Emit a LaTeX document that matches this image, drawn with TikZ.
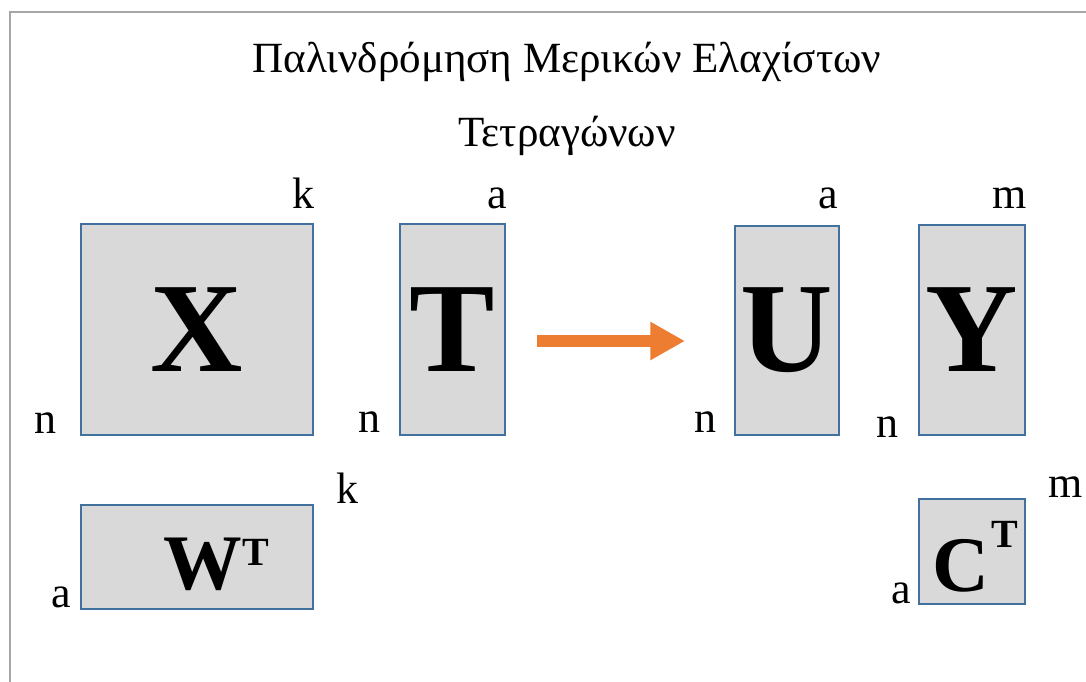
\documentclass[tikz,border=0pt]{standalone}
\usepackage{fontspec}
\setmainfont{Liberation Serif}
\usetikzlibrary{arrows.meta}
\definecolor{boxblue}{HTML}{41719C}
\definecolor{boxgray}{HTML}{D9D9D9}
\definecolor{arroworange}{HTML}{ED7D31}
\definecolor{framegray}{HTML}{A6A6A6}
\begin{document}
\begin{tikzpicture}[x=0.75pt,y=-0.75pt,
  mat/.style={draw=boxblue,fill=boxgray,line width=1.6pt,inner sep=0pt,rectangle},
  dim/.style={font=\fontsize{33}{36}\selectfont,anchor=base,inner sep=0pt},
  big/.style={font=\fontsize{96}{100}\selectfont\bfseries,inner sep=0pt},
  mid/.style={font=\fontsize{59}{62}\selectfont\bfseries,inner sep=0pt,anchor=base},
  sup/.style={font=\fontsize{30}{32}\selectfont\bfseries,inner sep=0pt,anchor=base},
  ttl/.style={font=\fontsize{32.3}{36}\selectfont,anchor=base,inner sep=0pt}]
\useasboundingbox (0,0) rectangle (1086,682);
\draw[framegray,line width=1.5pt] (10,682) -- (10,12) -- (1086,12);
% title
\node[ttl] (t1) at (567,72) {Παλινδρόμηση Μερικών Ελαχίστων};
\node[ttl] (t2) at (567,146) {Τετραγώνων};
% matrices
\node[mat,minimum width=232*0.75pt,minimum height=211*0.75pt] (X) at (197,329.5) {};
\node[mat,minimum width=105*0.75pt,minimum height=211*0.75pt] (T) at (452.5,329.5) {};
\node[mat,minimum width=104*0.75pt,minimum height=209*0.75pt] (U) at (787,330.5) {};
\node[mat,minimum width=106*0.75pt,minimum height=210*0.75pt] (Y) at (972,330) {};
\node[mat,minimum width=232*0.75pt,minimum height=104*0.75pt] (W) at (197,557) {};
\node[mat,minimum width=106*0.75pt,minimum height=105*0.75pt] (C) at (972,551.5) {};
% letters
\node[big] (Xl) at (X.center) {X};
\node[big] (Tl) at (T.center) {T};
\node[big] (Ul) at (U.center) {U};
\node[big] (Yl) at (Y.center) {Y};
\node[mid] (Wl) at (203,589) {W};
\node[sup,anchor=base west] (Wt) at (Wl.base east) [yshift=18pt] {T};
\node[mid] (Cl) at (961,591) {C};
\node[sup,anchor=base west] (Ct) at ([xshift=1pt]Cl.base east) [yshift=33pt] {T};
% arrow
\coordinate (as) at (537,341);
\coordinate (ae) at (685,341);
\draw[arroworange,line width=9pt,-{Triangle[length=26pt,width=27pt]}] (as) -- (ae);
% dimensions
\node[dim] (kx) at (303,208) {k};
\node[dim] (at) at (497,208) {a};
\node[dim] (au) at (828,208) {a};
\node[dim] (my) at (1010,208) {m};
\node[dim] (nx) at (45,433) {n};
\node[dim] (nt) at (369,432) {n};
\node[dim] (nu) at (705,432) {n};
\node[dim] (ny) at (887,437) {n};
\node[dim] (kw) at (347,503) {k};
\node[dim] (mc) at (1066,497) {m};
\node[dim] (aw) at (61,607) {a};
\node[dim] (ac) at (901,603) {a};
\end{tikzpicture}
\end{document}
